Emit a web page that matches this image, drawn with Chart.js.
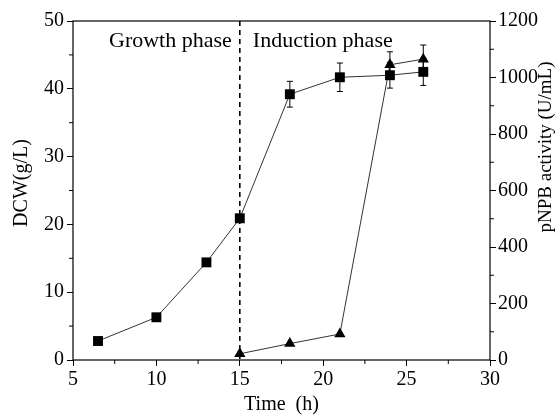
<!DOCTYPE html>
<html>
<head>
<meta charset="utf-8">
<script src="https://cdn.jsdelivr.net/npm/chart.js@4/dist/chart.umd.min.js"></script>
<style>
  html, body { margin:0; padding:0; background:#fff; }
  #wrap { width:556px; height:415px; }
</style>
</head>
<body>
<div id="wrap"><canvas id="chart"></canvas></div>
<script>
/* ── DATOS ── */
const timeDcw  = [6.5, 10, 13, 15, 18, 21, 24, 26];
const dcw      = [2.8, 6.3, 14.4, 20.9, 39.2, 41.7, 42.0, 42.5];
const dcwErr   = [0, 0, 0, 0, 1.9, 2.1, 1.9, 2.0];
const timeAct  = [15, 18, 21, 24, 26];
const activity = [22, 58, 92, 1045, 1065];
const actErr   = [0, 0, 0, 46, 50];
const xTicks   = [5, 10, 15, 20, 25, 30];
const dcwTicks = [0, 10, 20, 30, 40, 50];
const actTicks = [0, 200, 400, 600, 800, 1000, 1200];
const phaseAt  = 15;
const phases   = ['Growth phase', 'Induction phase'];
const titles   = { x: 'Time  (h)', y: 'DCW(g/L)', y2: 'pNPB activity (U/mL)' };

const SERIF = '"Liberation Serif", "Times New Roman", serif';
const INK   = '#000';

/* ── PLUGIN: marco, ticks menores, barras de error, línea de fase, títulos Y ── */
const extras = {
  id: 'extras',
  beforeDatasetsDraw(chart) {
    const { ctx, chartArea: a, scales } = chart;
    const x = scales.x, yl = scales.y, yr = scales.y2;
    ctx.save();
    // línea discontinua de cambio de fase
    const px = x.getPixelForValue(phaseAt);
    ctx.strokeStyle = INK; ctx.lineWidth = 1.6; ctx.setLineDash([5, 4]);
    ctx.beginPath(); ctx.moveTo(px, a.top); ctx.lineTo(px, a.bottom); ctx.stroke();
    ctx.setLineDash([]);
    // textos de fase
    ctx.fillStyle = INK; ctx.font = `22px ${SERIF}`; ctx.textBaseline = 'middle';
    ctx.textAlign = 'right'; ctx.fillText(phases[0], px - 8, a.top + 20);
    ctx.textAlign = 'left';  ctx.fillText(phases[1], px + 13, a.top + 20);
    // barras de error
    ctx.lineWidth = 1;
    const bars = (xs, ys, es, sc) => xs.forEach((t, i) => {
      if (!es[i]) return;
      const cx = x.getPixelForValue(t);
      const y1 = sc.getPixelForValue(ys[i] + es[i]);
      const y2 = sc.getPixelForValue(ys[i] - es[i]);
      ctx.beginPath();
      ctx.moveTo(cx, y1); ctx.lineTo(cx, y2);
      ctx.moveTo(cx - 3, y1); ctx.lineTo(cx + 3, y1);
      ctx.moveTo(cx - 3, y2); ctx.lineTo(cx + 3, y2);
      ctx.stroke();
    });
    bars(timeDcw, dcw, dcwErr, yl);
    bars(timeAct, activity, actErr, yr);
    ctx.restore();
  },
  afterDraw(chart) {
    const { ctx, chartArea: a, scales } = chart;
    const x = scales.x, yl = scales.y, yr = scales.y2;
    ctx.save();
    ctx.strokeStyle = INK; ctx.lineWidth = 1.2;
    ctx.strokeRect(a.left, a.top, a.right - a.left, a.bottom - a.top);
    // ticks menores
    ctx.lineWidth = 1;
    ctx.beginPath();
    for (let v = 7.5; v < 30; v += 5) {
      const p = x.getPixelForValue(v);
      ctx.moveTo(p, a.bottom); ctx.lineTo(p, a.bottom + 4);
    }
    for (let v = 5; v < 50; v += 10) {
      const p = yl.getPixelForValue(v);
      ctx.moveTo(a.left, p); ctx.lineTo(a.left - 4, p);
    }
    for (let v = 100; v < 1200; v += 200) {
      const p = yr.getPixelForValue(v);
      ctx.moveTo(a.right, p); ctx.lineTo(a.right + 4, p);
    }
    ctx.stroke();
    // títulos verticales (ambos leen de abajo hacia arriba)
    ctx.fillStyle = INK;
    ctx.textAlign = 'center'; ctx.textBaseline = 'middle';
    const vtitle = (txt, cx, cy, size) => {
      ctx.save(); ctx.translate(cx, cy); ctx.rotate(-Math.PI / 2);
      ctx.font = `${size}px ${SERIF}`;
      ctx.fillText(txt, 0, 0); ctx.restore();
    };
    vtitle(titles.y, 22, 183, 20);
    vtitle(titles.y2, 546, 147, 19);
    ctx.restore();
  }
};

const fixedTicks = list => scale => { scale.ticks = list.map(v => ({ value: v })); };
const plain = v => String(v);

new Chart(document.getElementById('chart'), {
  type: 'line',
  data: {
    datasets: [
      {
        label: 'DCW',
        data: timeDcw.map((t, i) => ({ x: t, y: dcw[i] })),
        yAxisID: 'y',
        borderColor: '#333', borderWidth: 1,
        pointStyle: 'rect', pointRadius: 7, pointHoverRadius: 7,
        pointBackgroundColor: INK, pointBorderColor: INK, pointBorderWidth: 0
      },
      {
        label: 'pNPB activity',
        data: timeAct.map((t, i) => ({ x: t, y: activity[i] })),
        yAxisID: 'y2',
        borderColor: '#333', borderWidth: 1,
        pointStyle: 'triangle', pointRadius: 6.5, pointHoverRadius: 6.5,
        pointBackgroundColor: INK, pointBorderColor: INK, pointBorderWidth: 0
      }
    ]
  },
  options: {
    responsive: true, maintainAspectRatio: false, animation: false,
    layout: { padding: { top: 21, left: 0, right: 0, bottom: 0 } },
    plugins: { legend: { display: false }, tooltip: { enabled: false } },
    scales: {
      x: {
        type: 'linear', min: 5, max: 30,
        afterBuildTicks: fixedTicks(xTicks),
        afterFit: s => { s.height = 55; },
        grid: { drawOnChartArea: false, tickLength: 6, color: INK, tickWidth: 1 },
        border: { display: false },
        ticks: { color: INK, padding: 2, maxRotation: 0, callback: plain, font: { family: SERIF, size: 20 } },
        title: { display: true, text: titles.x, color: INK, padding: { top: 0, bottom: 0 },
                 font: { family: SERIF, size: 20, lineHeight: 1 } }
      },
      y: {
        position: 'left', min: 0, max: 50,
        afterBuildTicks: fixedTicks(dcwTicks),
        afterFit: s => { s.width = 73; },
        grid: { drawOnChartArea: false, tickLength: 6, color: INK, tickWidth: 1 },
        border: { display: false },
        ticks: { color: INK, padding: 3, callback: plain, font: { family: SERIF, size: 20 } }
      },
      y2: {
        position: 'right', min: 0, max: 1200,
        afterBuildTicks: fixedTicks(actTicks),
        afterFit: s => { s.width = 66; },
        grid: { drawOnChartArea: false, tickLength: 6, color: INK, tickWidth: 1 },
        border: { display: false },
        ticks: { color: INK, padding: 2, callback: plain, font: { family: SERIF, size: 20 } }
      }
    }
  },
  plugins: [extras]
});
</script>
</body>
</html>
